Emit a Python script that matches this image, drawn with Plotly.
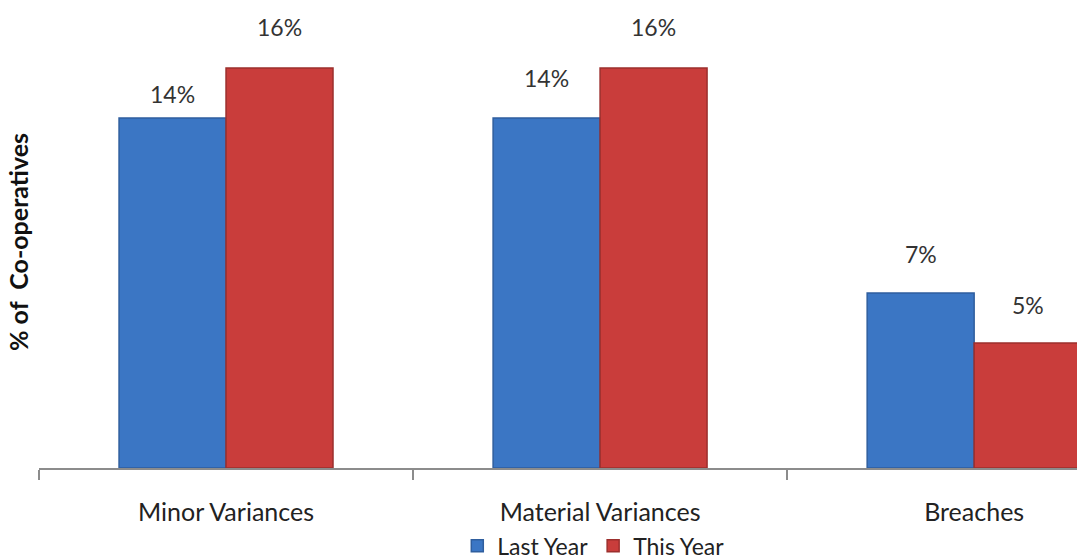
import plotly.graph_objects as go

categories = ["Minor Variances", "Material Variances", "Breaches"]
last_year = [14, 14, 7]
this_year = [16, 16, 5]
label_shift_last = [24, 40, 39]
label_shift_this = [41, 41, 38]

FONT = "Lato"
bargap = 0.428
w = (1 - bargap) / 2

fig = go.Figure()
fig.add_trace(go.Bar(name="Last Year", x=categories, y=last_year,
                     marker=dict(color="#3b76c4", line=dict(color="#2f5e9e", width=1.5))))
fig.add_trace(go.Bar(name="This Year", x=categories, y=this_year,
                     marker=dict(color="#c93d3b", line=dict(color="#9c2f2d", width=1.5))))

for i, c in enumerate(categories):
    fig.add_annotation(x=i - w / 2, y=last_year[i], xref="x", yref="y", text=f"{last_year[i]}%",
                       showarrow=False, yshift=label_shift_last[i], font=dict(family=FONT, size=23, color="#333"))
    fig.add_annotation(x=i + w / 2, y=this_year[i], xref="x", yref="y", text=f"{this_year[i]}%",
                       showarrow=False, yshift=label_shift_this[i], font=dict(family=FONT, size=23, color="#333"))

fig.add_annotation(xref="paper", yref="paper", x=0, y=0.483, xshift=-21, xanchor="center", yanchor="middle",
                   text="<b>% of  Co-operatives</b>",
                   textangle=-90, showarrow=False, font=dict(family=FONT, size=25, color="#111"))

fig.update_layout(
    width=1077, height=559,
    margin=dict(l=39, r=0, t=0, b=91, autoexpand=False),
    plot_bgcolor="white", paper_bgcolor="white",
    barmode="group", bargap=bargap, bargroupgap=0,
    font=dict(family=FONT, size=24, color="#222"),
    legend=dict(orientation="h", x=0.534, xanchor="center", y=-0.166, yanchor="middle",
                font=dict(family=FONT, size=23, color="#222"), itemwidth=30, traceorder="normal"),
    showlegend=True,
)
fig.update_xaxes(type="category", range=[-0.5, 2.275], showline=True, linecolor="#8c8c8c", linewidth=1.5,
                 ticks="outside", tickson="boundaries", ticklen=10, tickcolor="#8c8c8c", tickwidth=1.5,
                 ticklabelstandoff=21, showgrid=False, automargin=False,
                 tickfont=dict(family=FONT, size=25, color="#222"))
fig.update_yaxes(range=[0, 18.72], showticklabels=False, showgrid=False, zeroline=False, showline=False,
                 ticks="", automargin=False)

fig.write_html("out.html")
